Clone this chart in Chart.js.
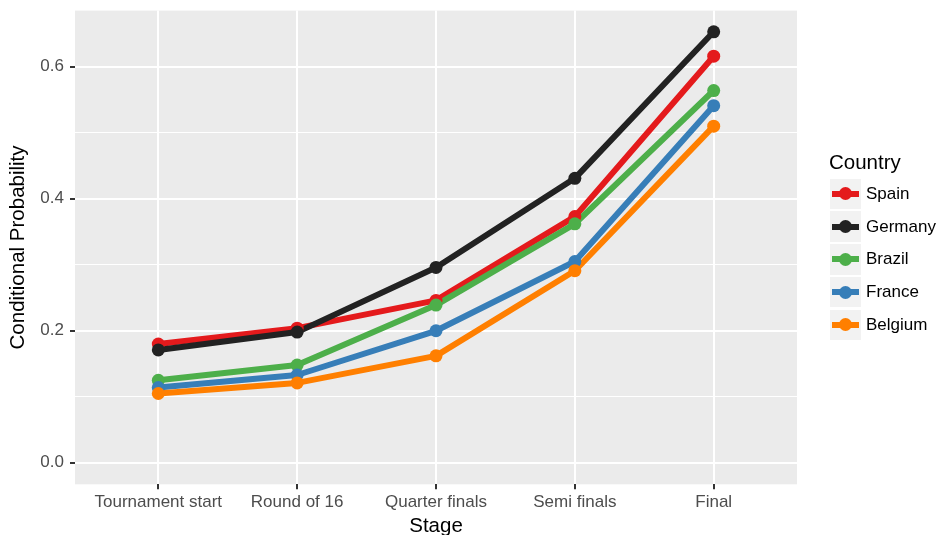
<!DOCTYPE html>
<html>
<head>
<meta charset="utf-8">
<script src="https://cdn.jsdelivr.net/npm/chart.js@4"></script>
<style>
  html, body { margin: 0; padding: 0; background: #ffffff; }
  #wrap { position: relative; width: 938px; height: 535px; overflow: hidden; font-family: "Liberation Sans", Arial, sans-serif; }
  #c { position: absolute; left: 0; top: 0; }
  .lg-title { position: absolute; left: 829px; top: 152px; font-size: 20.5px; line-height: 20.5px; color: #000; white-space: nowrap; }
  .lg-key { position: absolute; left: 830px; width: 30.5px; height: 30.5px; background: #F2F2F2; }
  .lg-line { position: absolute; left: 1.5px; right: 1.5px; top: 12.25px; height: 6px; }
  .lg-dot { position: absolute; left: 8.75px; top: 8.75px; width: 13px; height: 13px; border-radius: 50%; }
  .lg-label { position: absolute; left: 866px; font-size: 17px; line-height: 20px; color: #000; white-space: nowrap; }
</style>
</head>
<body>
<div id="wrap">
  <canvas id="c" width="938" height="535"></canvas>
  <div id="legend"></div>
</div>
<script>
// ---- data ----
const stages = ["Tournament start", "Round of 16", "Quarter finals", "Semi finals", "Final"];
const countries = ["Spain", "Germany", "Brazil", "France", "Belgium"];
const spain   = [0.180, 0.204, 0.246, 0.373, 0.616];
const germany = [0.171, 0.198, 0.296, 0.431, 0.653];
const brazil  = [0.125, 0.148, 0.239, 0.362, 0.564];
const france  = [0.114, 0.133, 0.200, 0.305, 0.541];
const belgium = [0.105, 0.121, 0.162, 0.291, 0.510];
const yTickValues = [0.0, 0.1, 0.2, 0.3, 0.4, 0.5, 0.6];
const yMajorLabels = ["0.0", "0.2", "0.4", "0.6"];
const colors = ["#E41A1C", "#222222", "#4DAF4A", "#377EB8", "#FF7F00"];

const seriesValues = [spain, germany, brazil, france, belgium];

// ---- datasets: all lines below all points (like ggplot layers) ----
const datasets = [];
seriesValues.forEach((vals, i) => {
  datasets.push({
    label: countries[i] + " line",
    data: vals.map((v, j) => ({ x: j, y: v })),
    borderColor: colors[i],
    backgroundColor: colors[i],
    borderWidth: 6,
    borderJoinStyle: 'round',
    pointRadius: 0,
    pointHoverRadius: 0,
    tension: 0,
    fill: false,
    order: 10 - i
  });
});
seriesValues.forEach((vals, i) => {
  datasets.push({
    label: countries[i],
    data: vals.map((v, j) => ({ x: j, y: v })),
    showLine: false,
    pointRadius: 6.5,
    pointHoverRadius: 6.5,
    pointBorderWidth: 0,
    pointBackgroundColor: colors[i],
    pointBorderColor: colors[i],
    order: 5 - i
  });
});

const panelBg = {
  id: 'panelBg',
  beforeDraw(chart) {
    const { ctx, chartArea: a } = chart;
    ctx.save();
    ctx.fillStyle = '#EBEBEB';
    ctx.fillRect(a.left, a.top, a.right - a.left, a.bottom - a.top);
    ctx.restore();
  }
};

const isMajor = v => Math.abs(Math.round(v * 10) % 2) === 0;
const noPad = s => { s.paddingTop = 0; s.paddingBottom = 0; s.paddingLeft = 0; s.paddingRight = 0; };

new Chart(document.getElementById('c'), {
  type: 'line',
  data: { datasets },
  options: {
    responsive: false,
    animation: false,
    devicePixelRatio: 1,
    layout: { padding: { left: 0, right: 141, top: 10.6, bottom: 0 } },
    plugins: { legend: { display: false }, tooltip: { enabled: false } },
    events: [],
    scales: {
      x: {
        type: 'linear',
        min: -0.6,
        max: 4.6,
        afterBuildTicks: s => { s.ticks = stages.map((_, i) => ({ value: i })); },
        afterFit: s => { s.height = 50.7; noPad(s); },
        border: { display: false },
        grid: {
          color: '#FFFFFF',
          lineWidth: 2,
          tickLength: 5,
          tickColor: '#333333',
          tickWidth: 2
        },
        ticks: {
          autoSkip: false,
          maxRotation: 0,
          padding: 3,
          color: '#4D4D4D',
          font: { family: '"Liberation Sans", Arial, sans-serif', size: 17 },
          callback: v => stages[v]
        },
        title: {
          display: true,
          text: 'Stage',
          color: '#000000',
          padding: { top: 0, bottom: 0 },
          font: { family: '"Liberation Sans", Arial, sans-serif', size: 20.5, lineHeight: 0.82 }
        }
      },
      y: {
        type: 'linear',
        min: -0.0326,
        max: 0.6851,
        afterBuildTicks: s => { s.ticks = yTickValues.map(v => ({ value: v })); },
        afterFit: s => { s.width = 75; noPad(s); },
        border: { display: false },
        grid: {
          color: '#FFFFFF',
          lineWidth: c => (c.tick && isMajor(c.tick.value)) ? 2 : 1,
          tickLength: 5,
          tickColor: c => (c.tick && isMajor(c.tick.value)) ? '#333333' : 'rgba(0,0,0,0)',
          tickWidth: 2
        },
        ticks: {
          autoSkip: false,
          padding: 6,
          color: '#4D4D4D',
          font: { family: '"Liberation Sans", Arial, sans-serif', size: 17 },
          callback: v => isMajor(v) ? yMajorLabels[Math.round(v * 5)] : ''
        },
        title: {
          display: true,
          text: 'Conditional Probability',
          color: '#000000',
          padding: { top: 7.5, bottom: 0 },
          font: { family: '"Liberation Sans", Arial, sans-serif', size: 20.5, lineHeight: 1.05 }
        }
      }
    }
  },
  plugins: [panelBg]
});

// ---- legend (HTML) ----
const lg = document.getElementById('legend');
const t = document.createElement('div');
t.className = 'lg-title';
t.textContent = 'Country';
lg.appendChild(t);
countries.forEach((name, i) => {
  const top = 178.5 + i * 32.75;
  const key = document.createElement('div');
  key.className = 'lg-key';
  key.style.top = top + 'px';
  const line = document.createElement('div');
  line.className = 'lg-line';
  line.style.background = colors[i];
  const dot = document.createElement('div');
  dot.className = 'lg-dot';
  dot.style.background = colors[i];
  key.appendChild(line);
  key.appendChild(dot);
  lg.appendChild(key);
  const lab = document.createElement('div');
  lab.className = 'lg-label';
  lab.style.top = (top + 15.25 - 10) + 'px';
  lab.textContent = name;
  lg.appendChild(lab);
});
</script>
</body>
</html>
